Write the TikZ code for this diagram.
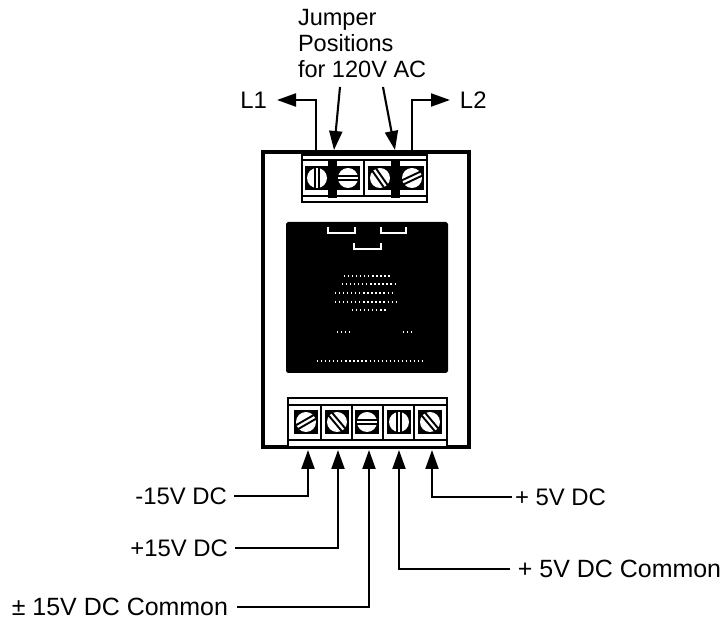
\documentclass[tikz,border=0pt]{standalone}
\usepackage{fontspec}
\setmainfont{Liberation Sans}
\usetikzlibrary{arrows.meta}
\tikzset{
  lbl/.style={font=\fontsize{13.6}{14.8}\selectfont,inner sep=0pt,outer xsep=.14cm,outer ysep=0pt},
  lblwide/.style={lbl,font=\fontsize{14.2}{14.8}\selectfont},
  wire/.style={line width=1.2pt,-{Triangle[length=19*0.02cm,width=13*0.02cm]}},
  case/.style={draw,line width=1.8pt},
  cell/.style={draw,line width=.8pt},
  strap/.style={fill=black,draw=none},
  specks/.style={white,line width=.6pt,dash pattern=on .7pt off 1.6pt},
  bracket/.style={white,line width=.7pt}
}
\newcommand{\Screw}[3]{%
  \node[fill=black,minimum size=24*0.02cm,inner sep=0pt] (#1) at (#2) {};
  \foreach \c in {north west,north east,south west,south east}
    \fill[white] (#1.\c) circle (.9);
  \fill[white] (#2) circle (10);
  \begin{scope}[shift={(#2)},rotate=#3]
    \draw[line width=1.1pt] (-10,-2.2) -- (10,-2.2);
    \draw[line width=1.1pt] (-10,2.2) -- (10,2.2);
  \end{scope}
}
\begin{document}
\begin{tikzpicture}[x=0.02cm,y=-0.02cm]
  \useasboundingbox (0,0) rectangle (725,618);

  \draw[case] (263,152) rectangle (469,447);
  \fill[rounded corners=1pt] (286,222) rectangle (448,373);

  \draw[cell,fill=white] (302,155) rectangle (427,202);
  \draw[cell] (302,160) -- (427,160);
  \draw[cell] (302,196) -- (427,196);
  \foreach \x in {333,364,396}
    \draw[cell] (\x,160) -- (\x,196);
  \draw[cell,fill=white] (288,398) rectangle (447,447);
  \draw[cell] (288,405) -- (447,405);
  \draw[cell] (288,440) -- (447,440);
  \foreach \x in {321,352,383,414}
    \draw[cell] (\x,405) -- (\x,440);

  \Screw{topA}{317,178}{90}
  \Screw{topB}{348,178}{0}
  \Screw{topC}{380,178}{-55}
  \Screw{topD}{412,178}{25}
  \Screw{botA}{306,422}{30}
  \Screw{botB}{337,422}{-50}
  \Screw{botC}{367,422}{0}
  \Screw{botD}{399,422}{90}
  \Screw{botE}{430,422}{-50}

  \fill[strap] (328,160) rectangle (337,198);
  \fill[strap] (391,160) rectangle (400,198);

  \draw[bracket] (328,227) -- (328,233) -- (355,233) -- (355,227);
  \draw[bracket] (381,227) -- (381,233) -- (406,233) -- (406,227);
  \draw[bracket] (354,243) -- (354,249) -- (381,249) -- (381,243);
  \draw[specks] (344,276) -- (390,276);
  \draw[specks] (342,284) -- (395,284);
  \draw[specks] (335,293) -- (395,293);
  \draw[specks] (335,302) -- (397,302);
  \draw[specks] (352,310) -- (387,310);
  \draw[specks] (337,332) -- (350,332);
  \draw[specks] (403,332) -- (413,332);
  \draw[specks] (317,361) -- (423,361);

  \node[lbl,align=left,anchor=north west,outer xsep=0pt,font=\fontsize{13.4}{14.8}\selectfont] (jumper) at (298,9) {Jumper\\Positions\\for 120V AC};
  \node[lbl,anchor=east,outer xsep=.2cm] (lone) at (277,100) {L1};
  \node[lbl,anchor=west,outer xsep=.2cm] (ltwo) at (450,100) {L2};
  \node[lbl,anchor=east] (mfifteen) at (234,496) {-15V DC};
  \node[lbl,anchor=east] (pfifteen) at (235,548) {+15V DC};
  \node[lblwide,anchor=east,outer xsep=.18cm] (cfifteen) at (237,607) {± 15V DC Common};
  \node[lblwide,anchor=west,outer xsep=.16cm] (cfive) at (510,569) {+ 5V DC Common};
  \node[lbl,anchor=west,outer xsep=.06cm] (pfive) at (512,497) {+ 5V DC};

  \coordinate (wireL) at (316,152);
  \coordinate (wireR) at (412,152);
  \coordinate (strapL) at (334,150);
  \coordinate (strapR) at (395,150);
  \coordinate (tipA) at (308,450);
  \coordinate (tipB) at (338,450);
  \coordinate (tipC) at (369,450);
  \coordinate (tipD) at (399,450);
  \coordinate (tipE) at (432,450);
  \coordinate (topL) at (340,87);
  \coordinate (topR) at (383,87);

  \draw[wire] (wireL) |- (lone.east);
  \draw[wire] (wireR) |- (ltwo.west);
  \draw[wire] (topL) -- (strapL);
  \draw[wire] (topR) -- (strapR);
  \draw[wire] (mfifteen.east) -| (tipA);
  \draw[wire] (pfifteen.east) -| (tipB);
  \draw[wire] (cfifteen.east) -| (tipC);
  \draw[wire] (cfive.west) -| (tipD);
  \draw[wire] (pfive.west) -| (tipE);
\end{tikzpicture}
\end{document}
